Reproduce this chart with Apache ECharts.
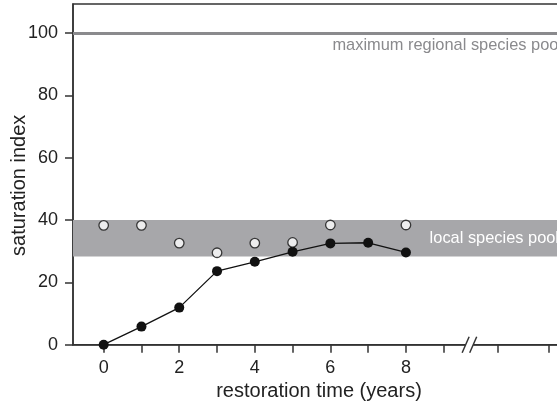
<!DOCTYPE html>
<html>
<head>
<meta charset="utf-8">
<script src="https://cdn.jsdelivr.net/npm/echarts@6/dist/echarts.min.js"></script>
<style>html,body{margin:0;padding:0;background:#fff}#c{width:557px;height:405px}</style>
</head>
<body>
<div id="c"></div>
<script>
// ---- data ----
const YEARS = [0, 1, 2, 3, 4, 5, 6, 7, 8];
const RESTORED = [0, 5.8, 11.9, 23.6, 26.6, 29.8, 32.5, 32.7, 29.6];      // filled circles, joined
const LOCAL_YEARS = [0, 1, 2, 3, 4, 5, 6, 8];
const LOCAL = [38.3, 38.3, 32.6, 29.5, 32.6, 32.8, 38.4, 38.4];           // open circles
const LOCAL_POOL = [28.3, 40];                                           // grey band
const REGIONAL_MAX = 100;                                                // grey line
const Y_TICKS = [0, 20, 40, 60, 80, 100];
const X_LABELS = [0, 2, 4, 6, 8];
const X_TICKS = [0, 1, 2, 3, 4, 5, 6, 7, 8, 9, 10.44, 11.78];
const BREAK_AT = [9.58, 9.78];
const TEXTS = {
  x: 'restoration time (years)',
  y: 'saturation index',
  max: 'maximum regional species pool',
  local: 'local species pool'
};

const FONT = '"Liberation Sans", Arial, Helvetica, sans-serif';
const chart = echarts.init(document.getElementById('c'), null, {renderer: 'canvas'});

const option = {
  animation: false,
  backgroundColor: '#fff',
  grid: {left: 73, top: 4, right: -8, bottom: 60.3, containLabel: false, outerBoundsMode: 'none',
         show: true, borderColor: '#333', borderWidth: 1.5, backgroundColor: 'transparent'},
  xAxis: {
    type: 'value', min: -0.812, max: 12.21,
    name: TEXTS.x, nameLocation: 'middle', nameGap: 37, nameMoveOverlap: false,
    nameTextStyle: {fontFamily: FONT, fontSize: 20, color: '#222'},
    splitLine: {show: false},
    axisLine: {show: true, onZero: false, lineStyle: {color: '#333', width: 1.5}},
    axisTick: {show: true, length: 8, lineStyle: {color: '#333', width: 1.5}, customValues: X_TICKS},
    axisLabel: {fontFamily: FONT, fontSize: 18, color: '#222', margin: 14, customValues: X_LABELS}
  },
  yAxis: {
    type: 'value', min: 0, max: 109.3,
    name: TEXTS.y, nameLocation: 'middle', nameGap: 44, nameMoveOverlap: false,
    nameTextStyle: {fontFamily: FONT, fontSize: 20, color: '#222', padding: [0, 22, 0, 0]},
    splitLine: {show: false},
    axisLine: {show: true, onZero: false, lineStyle: {color: '#333', width: 1.5}},
    axisTick: {show: true, length: 8, lineStyle: {color: '#333', width: 1.5}, customValues: Y_TICKS},
    axisLabel: {fontFamily: FONT, fontSize: 18, color: '#222', margin: 15, customValues: Y_TICKS}
  },
  series: [
    {
      name: 'pools', type: 'line', data: [], z: 1, silent: true,
      markArea: {
        silent: true,
        itemStyle: {color: '#a7a7aa'},
        label: {show: true, position: 'insideRight', distance: 6, color: '#fff', fontFamily: FONT, fontSize: 16.4},
        data: [[{name: TEXTS.local, yAxis: LOCAL_POOL[0]}, {yAxis: LOCAL_POOL[1]}]]
      },
      markLine: {
        silent: true, symbol: 'none',
        lineStyle: {color: '#8a8a8d', width: 3, type: 'solid'},
        label: {show: true, position: 'insideEndBottom', formatter: TEXTS.max, color: '#8a8a8d', fontFamily: FONT, fontSize: 16.4, distance: [3, 4]},
        data: [{yAxis: REGIONAL_MAX}]
      }
    },
    {
      name: 'restored', type: 'line', z: 3,
      data: YEARS.map((x, i) => [x, RESTORED[i]]),
      symbol: 'circle', symbolSize: 10, showSymbol: true,
      lineStyle: {color: '#111', width: 1.3},
      itemStyle: {color: '#111', borderColor: '#111', borderWidth: 0}
    },
    {
      name: 'local', type: 'scatter', z: 4,
      data: LOCAL_YEARS.map((x, i) => [x, LOCAL[i]]),
      symbol: 'circle', symbolSize: 9.5,
      itemStyle: {color: '#fff', borderColor: '#111', borderWidth: 1.3}
    }
  ]
};
chart.setOption(option);

// axis break marks "//" placed via the axis scale
const y0 = chart.convertToPixel({xAxisIndex: 0, yAxisIndex: 0}, [0, 0])[1];
const marks = BREAK_AT.map(v => {
  const px = chart.convertToPixel({xAxisIndex: 0, yAxisIndex: 0}, [v, 0])[0];
  return {type: 'line', shape: {x1: px - 3.5, y1: y0 + 8, x2: px + 3.5, y2: y0 - 8}, style: {stroke: '#333', lineWidth: 1.5}, z: 10};
});
const gapL = chart.convertToPixel({xAxisIndex: 0, yAxisIndex: 0}, [BREAK_AT[0], 0])[0];
const gapR = chart.convertToPixel({xAxisIndex: 0, yAxisIndex: 0}, [BREAK_AT[1], 0])[0];
chart.setOption({graphic: [
  {type: 'rect', shape: {x: gapL, y: y0 - 1.5, width: gapR - gapL, height: 3}, style: {fill: '#fff'}, z: 9}
].concat(marks)});
</script>
</body>
</html>
